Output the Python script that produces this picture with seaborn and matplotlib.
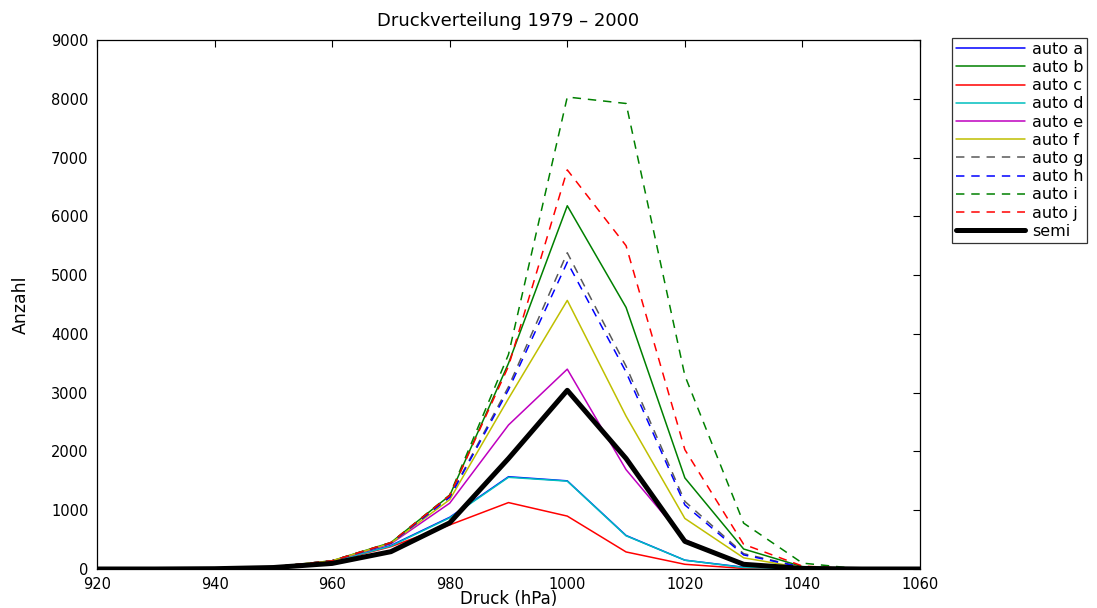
import matplotlib
matplotlib.use("Agg")
import matplotlib.pyplot as plt
import seaborn as sns
import pandas as pd

pressure = [920, 930, 940, 950, 960, 970, 980, 990, 1000, 1010, 1020, 1030, 1040, 1050, 1060]
auto_a = [0, 0, 5, 30, 130, 400, 880, 1570, 1500, 570, 150, 30, 5, 0, 0]
auto_b = [0, 0, 5, 35, 140, 450, 1250, 3500, 6180, 4450, 1550, 340, 40, 0, 0]
auto_c = [0, 0, 5, 30, 120, 380, 750, 1130, 900, 290, 80, 10, 0, 0, 0]
auto_d = [0, 0, 5, 30, 125, 390, 870, 1560, 1495, 565, 150, 25, 5, 0, 0]
auto_e = [0, 0, 5, 35, 135, 430, 1120, 2450, 3400, 1690, 500, 60, 10, 0, 0]
auto_f = [0, 0, 5, 35, 140, 440, 1180, 2900, 4570, 2600, 860, 190, 20, 0, 0]
auto_g = [0, 0, 5, 35, 140, 440, 1230, 3100, 5380, 3450, 1150, 260, 30, 0, 0]
auto_h = [0, 0, 5, 35, 140, 440, 1220, 3050, 5220, 3350, 1090, 240, 30, 0, 0]
auto_i = [0, 0, 5, 35, 140, 450, 1260, 3650, 8030, 7920, 3290, 780, 100, 0, 0]
auto_j = [0, 0, 5, 35, 140, 450, 1250, 3450, 6790, 5500, 2030, 420, 50, 0, 0]
semi = [0, 0, 5, 25, 95, 295, 785, 1880, 3040, 1880, 470, 80, 10, 0, 0]

series_names = ["auto a", "auto b", "auto c", "auto d", "auto e", "auto f",
                "auto g", "auto h", "auto i", "auto j", "semi"]
series_values = [auto_a, auto_b, auto_c, auto_d, auto_e, auto_f,
                 auto_g, auto_h, auto_i, auto_j, semi]
x_ticks = [920, 940, 960, 980, 1000, 1020, 1040, 1060]
y_ticks = [0, 1000, 2000, 3000, 4000, 5000, 6000, 7000, 8000, 9000]

colors = {
    "auto a": (0, 0, 1), "auto b": (0, 0.5, 0), "auto c": (1, 0, 0),
    "auto d": (0, 0.75, 0.75), "auto e": (0.75, 0, 0.75), "auto f": (0.75, 0.75, 0),
    "auto g": (0.35, 0.35, 0.35), "auto h": (0, 0, 1), "auto i": (0, 0.5, 0),
    "auto j": (1, 0, 0), "semi": (0, 0, 0),
}
dashed = {"auto g", "auto h", "auto i", "auto j"}

rows = []
for name, vals in zip(series_names, series_values):
    for p, v in zip(pressure, vals):
        rows.append({"Druck": p, "Anzahl": v, "Serie": name})
df = pd.DataFrame(rows)

sns.set_style("white")
plt.rcParams["font.family"] = ["DejaVu Sans"]
plt.rcParams["text.color"] = "black"
plt.rcParams["axes.labelcolor"] = "black"
plt.rcParams["xtick.direction"] = "in"
plt.rcParams["ytick.direction"] = "in"

fig = plt.figure(figsize=(10.97, 6.08), dpi=100)
ax = fig.add_axes([97 / 1097, 1 - 569 / 608, (920 - 97) / 1097, (569 - 40) / 608])

for name in series_names:
    sub = df[df["Serie"] == name]
    lw = 3.6 if name == "semi" else 1.1
    ls = (0, (5.5, 4.5)) if name in dashed else "-"
    sns.lineplot(data=sub, x="Druck", y="Anzahl", ax=ax, color=colors[name],
                 linewidth=lw, linestyle=ls, label=name, estimator=None, sort=False)

ax.set_xlim(920, 1060)
ax.set_ylim(0, 9000)
ax.set_xticks(x_ticks)
ax.set_yticks(y_ticks)
ax.tick_params(axis="both", labelsize=10.5, length=5, width=0.8, colors="black",
               top=True, right=True, direction="in")
ax.tick_params(axis="x", pad=5.5)
ax.tick_params(axis="y", pad=6)
for s in ax.spines.values():
    s.set_visible(True)
    s.set_color("black")
    s.set_linewidth(0.9)

ax.set_title("Druckverteilung 1979 \u2013 2000", fontsize=13, pad=10, color="black")
ax.set_xlabel("Druck (hPa)", fontsize=12, labelpad=-1.5, color="black")
ax.set_ylabel("Anzahl", fontsize=12.5, labelpad=15, color="black")

leg = ax.legend(loc="upper left", bbox_to_anchor=(1.039, 1.004), fontsize=11.5,
                frameon=True, fancybox=False, edgecolor="black", handlelength=4.3,
                handletextpad=0.45, labelspacing=0.2, borderpad=0.25, borderaxespad=0)
leg.get_frame().set_linewidth(0.9)
for t in leg.get_texts():
    t.set_color("black")

fig.savefig("out.png", dpi=100)
